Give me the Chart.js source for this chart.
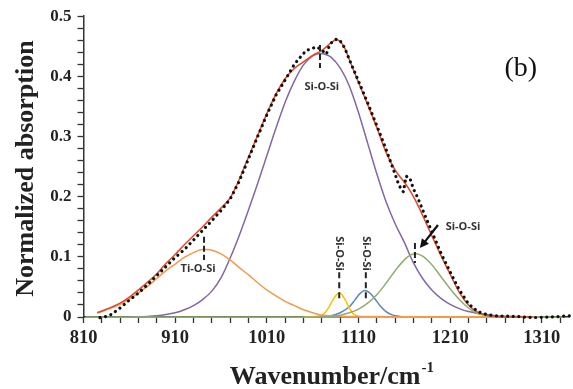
<!DOCTYPE html>
<html>
<head>
<meta charset="utf-8">
<script src="https://cdn.jsdelivr.net/npm/chart.js@4/dist/chart.umd.min.js"></script>
<style>
html,body{margin:0;padding:0;background:#fff;}
#wrap{width:573px;height:389px;position:relative;}
</style>
</head>
<body>
<div id="wrap"><canvas id="c" width="573" height="389"></canvas></div>
<script>
// ---------- data ----------
// experimental spectrum (black dotted)
const expWn  = [828, 835, 840, 850, 860, 870, 880, 890, 900, 910, 920, 930, 940, 950, 960, 970, 980, 990, 1000, 1010, 1020, 1030, 1040, 1046, 1053, 1059, 1064, 1068, 1072, 1075, 1078, 1081, 1086, 1090, 1095, 1100, 1110, 1120, 1130, 1140, 1145, 1150, 1153, 1156, 1159, 1162, 1166, 1170, 1175, 1180, 1190, 1200, 1210, 1220, 1230, 1240, 1250, 1260, 1280, 1300, 1320, 1340];
const expAbs = [-0.001, 0.001, 0.004, 0.015, 0.028, 0.040, 0.054, 0.069, 0.084, 0.099, 0.112, 0.128, 0.144, 0.160, 0.177, 0.196, 0.226, 0.263, 0.300, 0.336, 0.369, 0.394, 0.420, 0.431, 0.443, 0.446, 0.449, 0.446, 0.441, 0.437, 0.450, 0.457, 0.462, 0.459, 0.447, 0.428, 0.392, 0.356, 0.318, 0.279, 0.258, 0.237, 0.224, 0.214, 0.208, 0.234, 0.231, 0.213, 0.197, 0.178, 0.142, 0.106, 0.075, 0.045, 0.022, 0.009, 0.004, 0.002, 0.001, -0.001, 0.000, 0.002];
// fitted envelope (red)
const fitWn  = [825, 840, 850, 860, 870, 880, 890, 900, 910, 920, 930, 940, 950, 960, 970, 980, 990, 1000, 1010, 1020, 1030, 1040, 1050, 1060, 1068, 1075, 1080, 1086, 1090, 1095, 1100, 1110, 1120, 1130, 1140, 1150, 1160, 1165, 1170, 1180, 1190, 1200, 1210, 1220, 1230, 1240, 1250, 1260, 1270, 1300];
const fitAbs = [0.007, 0.016, 0.023, 0.033, 0.045, 0.058, 0.072, 0.089, 0.104, 0.120, 0.135, 0.150, 0.166, 0.181, 0.198, 0.229, 0.266, 0.302, 0.338, 0.371, 0.396, 0.413, 0.424, 0.435, 0.441, 0.449, 0.456, 0.461, 0.458, 0.447, 0.428, 0.390, 0.353, 0.315, 0.274, 0.244, 0.224, 0.213, 0.200, 0.169, 0.135, 0.102, 0.071, 0.041, 0.020, 0.008, 0.003, 0.001, 0.000, 0.000];
// Ti-O-Si component (orange)
const tiosiWn  = [826, 840, 850, 860, 870, 880, 890, 900, 910, 920, 930, 940, 945, 950, 960, 970, 980, 990, 1000, 1010, 1020, 1030, 1040, 1050, 1060, 1070, 1080, 1100, 1310];
const tiosiAbs = [0.007, 0.015, 0.021, 0.030, 0.040, 0.051, 0.064, 0.077, 0.088, 0.099, 0.107, 0.112, 0.112, 0.111, 0.105, 0.095, 0.082, 0.070, 0.057, 0.045, 0.035, 0.026, 0.019, 0.012, 0.007, 0.003, 0.002, 0.001, 0.000];
// main Si-O-Si component (purple)
const siosiMainWn  = [860, 880, 890, 900, 910, 920, 930, 940, 950, 960, 970, 980, 990, 1000, 1010, 1020, 1030, 1040, 1050, 1060, 1068, 1075, 1080, 1090, 1100, 1110, 1120, 1130, 1140, 1150, 1160, 1170, 1180, 1190, 1200, 1210, 1220, 1230, 1240, 1250, 1260, 1280, 1310];
const siosiMainAbs = [0.000, 0.001, 0.002, 0.004, 0.007, 0.012, 0.019, 0.029, 0.043, 0.065, 0.098, 0.136, 0.178, 0.222, 0.268, 0.314, 0.357, 0.392, 0.419, 0.434, 0.438, 0.436, 0.432, 0.414, 0.384, 0.340, 0.289, 0.238, 0.192, 0.155, 0.124, 0.090, 0.064, 0.045, 0.031, 0.021, 0.014, 0.009, 0.006, 0.004, 0.002, 0.001, 0.000];
// Si-O-Si component 1 (yellow)
const siosi1Wn  = [1050, 1068, 1074, 1078, 1082, 1086, 1089, 1092, 1096, 1100, 1104, 1108, 1115, 1300];
const siosi1Abs = [0.000, 0.002, 0.008, 0.017, 0.028, 0.037, 0.040, 0.037, 0.027, 0.015, 0.006, 0.002, 0.000, 0.000];
// Si-O-Si component 2 (blue)
const siosi2Wn  = [1060, 1080, 1090, 1100, 1106, 1111, 1117, 1123, 1128, 1134, 1140, 1146, 1155, 1165, 1250];
const siosi2Abs = [0.000, 0.002, 0.007, 0.017, 0.028, 0.038, 0.044, 0.039, 0.030, 0.018, 0.009, 0.004, 0.001, 0.000, 0.000];
// Si-O-Si component 3 (green)
const siosi3Wn  = [812, 1060, 1080, 1090, 1100, 1110, 1120, 1130, 1140, 1150, 1160, 1168, 1173, 1180, 1190, 1200, 1210, 1220, 1230, 1240, 1250, 1260, 1334];
const siosi3Abs = [0.000, 0.000, 0.001, 0.003, 0.007, 0.013, 0.023, 0.037, 0.056, 0.077, 0.095, 0.104, 0.105, 0.101, 0.087, 0.067, 0.047, 0.029, 0.015, 0.006, 0.002, 0.000, 0.000];
// tick labels and tick positions
const xTickLabels = [810, 910, 1010, 1110, 1210, 1310];
const xTickValues = [810, 830, 850, 870, 890, 910, 930, 950, 970, 990, 1010, 1030, 1050, 1070, 1090, 1110, 1130, 1150, 1170, 1190, 1210, 1230, 1250, 1270, 1290, 1310, 1330];
const yTickLabels = [0, 0.1, 0.2, 0.3, 0.4, 0.5];

// ---------- helpers ----------
const pts = (xs, ys) => xs.map((x, i) => ({x: x, y: ys[i]}));
const SERIF = '"Liberation Serif", "Times New Roman", serif';
const SANS = '"Open Sans", "Liberation Sans", sans-serif';

function line(data, color, order, extra) {
  return Object.assign({
    data: data, borderColor: color, backgroundColor: color, borderWidth: 1.5,
    showLine: true, pointRadius: 0, fill: false, order: order, clip: false,
    cubicInterpolationMode: 'monotone'
  }, extra || {});
}

// annotation plugin: labels, dashed markers, arrow, panel label, axis titles
const annot = {
  id: 'annot',
  afterDatasetsDraw(chart) {
    const ctx = chart.ctx, xs = chart.scales.x, ys = chart.scales.y;
    const X = v => xs.getPixelForValue(v), Y = v => ys.getPixelForValue(v);
    ctx.save();
    ctx.strokeStyle = '#222'; ctx.fillStyle = '#333';
    const dash = (x, y0, y1, pat) => {
      ctx.save(); ctx.setLineDash(pat || [6, 3]); ctx.lineWidth = 2; ctx.strokeStyle = '#222';
      ctx.beginPath(); ctx.moveTo(X(x), Y(y0)); ctx.lineTo(X(x), Y(y1)); ctx.stroke(); ctx.restore();
    };
    ctx.font = 'bold 11px ' + SANS;
    ctx.textAlign = 'center'; ctx.textBaseline = 'middle';
    // main Si-O-Si
    dash(1068, 0.452, 0.414);
    ctx.fillText('Si-O-Si', X(1070), Y(0.382));
    // Ti-O-Si
    dash(941.5, 0.1334, 0.0947);
    ctx.fillText('Ti-O-Si', X(935), Y(0.0797));
    // rotated labels (yellow & blue peaks)
    [[1089, 0.1055], [1118, 0.1055]].forEach(p => {
      ctx.save(); ctx.translate(X(p[0]), Y(p[1])); ctx.rotate(Math.PI / 2);
      ctx.fillText('Si-O-Si', 0, 0); ctx.restore();
      dash(p[0], 0.0745, 0.027, [6, 4]);
    });
    // green peak marker, arrow, label
    dash(1171.6, 0.123, 0.0897);
    const ax0 = X(1196.7), ay0 = Y(0.153), ax1 = X(1177), ay1 = Y(0.1146);
    ctx.save(); ctx.lineWidth = 2.2; ctx.strokeStyle = '#111'; ctx.fillStyle = '#111';
    const ang = Math.atan2(ay1 - ay0, ax1 - ax0);
    ctx.beginPath(); ctx.moveTo(ax0, ay0);
    ctx.lineTo(ax1 - 6 * Math.cos(ang), ay1 - 6 * Math.sin(ang)); ctx.stroke();
    ctx.beginPath(); ctx.moveTo(ax1, ay1);
    ctx.lineTo(ax1 - 9 * Math.cos(ang) + 4.5 * Math.sin(ang), ay1 - 9 * Math.sin(ang) - 4.5 * Math.cos(ang));
    ctx.lineTo(ax1 - 9 * Math.cos(ang) - 4.5 * Math.sin(ang), ay1 - 9 * Math.sin(ang) + 4.5 * Math.cos(ang));
    ctx.closePath(); ctx.fill(); ctx.restore();
    ctx.fillText('Si-O-Si', X(1224), Y(0.1495));
    // panel label
    ctx.fillStyle = '#111';
    ctx.font = '28px ' + SERIF;
    ctx.fillText('(b)', X(1287), Y(0.4136));
    ctx.restore();

    // axis titles
    ctx.save();
    ctx.fillStyle = '#222';
    ctx.font = 'bold 26px ' + SERIF;
    ctx.textAlign = 'left'; ctx.textBaseline = 'alphabetic';
    const t = 'Wavenumber/cm';
    const w = ctx.measureText(t).width;
    ctx.font = 'bold 15px ' + SERIF;
    const ws = ctx.measureText('-1').width;
    const cx = (chart.chartArea.left + chart.chartArea.right) / 2 + 5;
    const x0 = cx - (w + ws) / 2;
    ctx.font = 'bold 26px ' + SERIF;
    ctx.fillText(t, x0, 384);
    ctx.font = 'bold 15px ' + SERIF;
    ctx.fillText('-1', x0 + w + 1, 372);
    ctx.translate(26, (chart.chartArea.top + chart.chartArea.bottom) / 2 + 2);
    ctx.rotate(-Math.PI / 2);
    ctx.font = 'bold 26px ' + SERIF;
    ctx.textAlign = 'center'; ctx.textBaseline = 'middle';
    ctx.fillText('Normalized absorption', 0, 0);
    ctx.restore();
  }
};

new Chart(document.getElementById('c'), {
  type: 'scatter',
  data: {
    datasets: [
      line(pts(expWn, expAbs), '#111', 0, {borderWidth: 3.2, borderDash: [0.01, 5.6], borderCapStyle: 'round', cubicInterpolationMode: 'default', tension: 0}),
      line(pts(fitWn, fitAbs), '#E0482A', 1),
      line(pts(siosi3Wn, siosi3Abs), '#8FAD6E', 2),
      line(pts(tiosiWn, tiosiAbs), '#F39A4C', 3),
      line(pts(siosi1Wn, siosi1Abs), '#FFC000', 4),
      line(pts(siosi2Wn, siosi2Abs), '#5B84C4', 5),
      line(pts(siosiMainWn, siosiMainAbs), '#8466A3', 6)
    ]
  },
  options: {
    responsive: false, animation: false, devicePixelRatio: 1,
    layout: {padding: {left: 0, right: 3.7, top: 16, bottom: 0}},
    plugins: {legend: {display: false}, tooltip: {enabled: false}},
    scales: {
      x: {
        type: 'linear', min: 810, max: 1340,
        afterBuildTicks: s => { s.ticks = xTickValues.map(v => ({value: v})); },
        afterFit: s => { s.height = 72; },
        grid: {drawOnChartArea: false, drawTicks: true, tickLength: 6, tickColor: '#333', tickWidth: 1.3},
        border: {display: true, color: '#333', width: 1.5},
        ticks: {
          autoSkip: false, maxRotation: 0, padding: 4, color: '#222',
          font: {family: SERIF, size: 18.5, weight: 'bold'},
          callback: v => xTickLabels.includes(Math.round(v)) ? String(Math.round(v)) : ''
        },
        title: {display: false}
      },
      y: {
        type: 'linear', min: 0, max: 0.5,
        afterFit: s => { s.width = 83.5; },
        grid: {drawOnChartArea: false, drawTicks: true, tickLength: 6, tickColor: '#333', tickWidth: 1.3},
        border: {display: true, color: '#333', width: 1.5},
        ticks: {
          stepSize: 0.02, autoSkip: false, padding: 6, color: '#222',
          font: {family: SERIF, size: 17, weight: 'bold'},
          callback: v => {
            const r = Math.round(v * 10) / 10;
            if (Math.abs(v - r) > 1e-6) return '';
            const hit = yTickLabels.find(l => Math.abs(l - r) < 1e-9);
            return hit === undefined ? '' : (hit === 0 ? '0' : hit.toFixed(1));
          }
        },
        title: {display: false}
      }
    }
  },
  plugins: [annot]
});
</script>
</body>
</html>
